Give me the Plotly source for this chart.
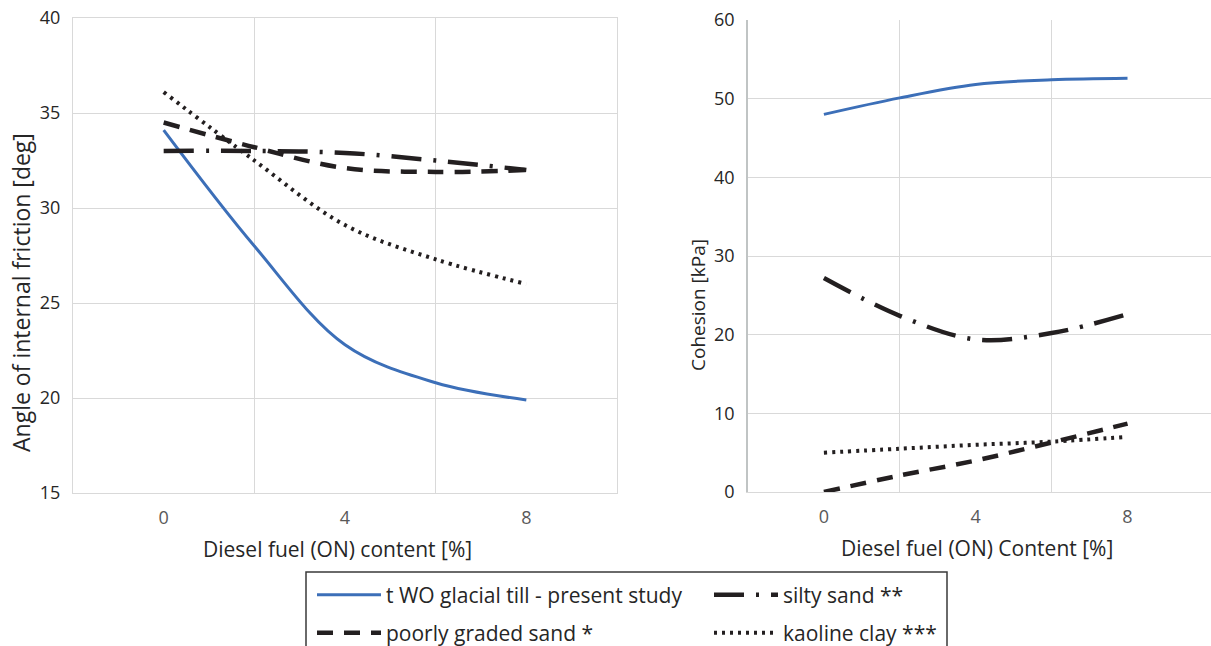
import plotly.graph_objects as go

# ---- data ----
diesel = [0, 2, 4, 6, 8]

names = ["t WO glacial till - present study", "poorly graded sand *",
         "silty sand **", "kaoline clay ***"]

phi_till = [34.1, 28.0, 22.8, 20.8, 19.9]
phi_poorly = [34.5, 33.2, 32.1, 31.9, 32.0]
phi_silty = [33.0, 33.0, 32.9, 32.5, 32.0]
phi_kaolin = [36.1, 32.5, 29.1, 27.3, 26.0]

coh_till = [48.0, 50.1, 51.8, 52.4, 52.6]
coh_poorly = [0.0, 2.1, 4.0, 6.3, 8.7]
coh_silty = [27.2, 22.4, 19.4, 20.2, 22.6]
coh_kaolin = [5.0, 5.5, 6.0, 6.4, 7.0]

x_ticks = [0, 4, 8]
x_grid = [2, 6]

title_x_left = "Diesel fuel (ON) content [%]"
title_y_left = "Angle of internal friction [deg]"
title_x_right = "Diesel fuel (ON) Content [%]"
title_y_right = "Cohesion [kPa]"

# ---- styles ----
BLUE = "#3c6fb8"
BLACK = "#231f20"
styles = [
    dict(color=BLUE, width=3, dash="solid"),
    dict(color=BLACK, width=4.5, dash="16px,11px"),
    dict(color=BLACK, width=4.5, dash="30px,12px,3px,12px"),
    dict(color=BLACK, width=4, dash="3px,5px"),
]
legend_of = ["legend", "legend2", "legend", "legend2"]

FONT = "Open Sans"
GRID = "#d9d9d9"
TXT = "#262626"

W, H = 1211, 646


def px(x):
    return x / W


def py(y):
    return 1 - y / H


fig = go.Figure()

left = [phi_till, phi_poorly, phi_silty, phi_kaolin]
right = [coh_till, coh_poorly, coh_silty, coh_kaolin]

for i in range(4):
    fig.add_trace(go.Scatter(
        x=diesel, y=left[i], mode="lines", name=names[i],
        line=dict(shape="spline", smoothing=1, **styles[i]),
        xaxis="x", yaxis="y", legend=legend_of[i], showlegend=True))
for i in range(4):
    fig.add_trace(go.Scatter(
        x=diesel, y=right[i], mode="lines", name=names[i],
        line=dict(shape="spline", smoothing=1, **styles[i]),
        xaxis="x2", yaxis="y2", showlegend=False))

xcommon = dict(tickmode="array", tickvals=x_ticks, showgrid=False, zeroline=False,
               minor=dict(tickmode="array", tickvals=x_grid, showgrid=True,
                          gridcolor=GRID, gridwidth=1, ticks=""),
               tickfont=dict(family=FONT, size=18, color="#595959"),
               ticks="", ticklabelstandoff=8, ticklabeloverflow="allow")
ycommon = dict(showgrid=True, gridcolor=GRID, zeroline=False, ticks="",
               ticklabelstandoff=8, ticklabeloverflow="allow",
               tickfont=dict(family=FONT, size=18, color=TXT))
legend_common = dict(orientation="h", x=px(312), xanchor="left",
                     yanchor="middle", bgcolor="rgba(0,0,0,0)", borderwidth=0,
                     itemwidth=64, entrywidth=318, entrywidthmode="pixels",
                     font=dict(family=FONT, size=21, color=TXT))

fig.update_layout(
    width=W, height=H,
    margin=dict(l=0, r=0, t=0, b=0, autoexpand=False),
    plot_bgcolor="white", paper_bgcolor="white",
    font=dict(family=FONT, size=18, color=TXT),
    xaxis=dict(domain=[px(73), px(617)], range=[-2, 10], anchor="y",
               showline=True, linecolor=GRID, linewidth=1, mirror=True,
               **xcommon),
    yaxis=dict(domain=[py(493), py(18)], range=[15, 40], dtick=5, anchor="x",
               showline=True, linecolor=GRID, mirror=True, **ycommon),
    xaxis2=dict(domain=[px(748), 1.0], range=[-2, 10.2], anchor="y2",
                showline=True, linecolor=GRID, linewidth=1, **xcommon),
    yaxis2=dict(domain=[py(492), py(20)], range=[0, 60], dtick=10, anchor="x2",
                showline=True, linecolor="#c0c4c4", linewidth=1.5, **ycommon),
    legend=dict(y=py(595), **legend_common),
    legend2=dict(y=py(633), **legend_common),
    shapes=[dict(type="rect", xref="paper", yref="paper",
                 x0=px(306), x1=px(947), y0=-0.2, y1=py(572),
                 line=dict(color="#3a3a3a", width=1.5), fillcolor="rgba(0,0,0,0)")],
    annotations=[
        dict(text=title_x_left, x=px(337), y=py(549), xref="paper", yref="paper",
             xanchor="center", yanchor="middle", showarrow=False,
             font=dict(family=FONT, size=21, color=TXT)),
        dict(text=title_x_right, x=px(977), y=py(548), xref="paper", yref="paper",
             xanchor="center", yanchor="middle", showarrow=False,
             font=dict(family=FONT, size=21, color=TXT)),
        dict(text=title_y_left, x=px(21), y=py(293), xref="paper", yref="paper",
             xanchor="center", yanchor="middle", showarrow=False, textangle=-90,
             font=dict(family=FONT, size=23, color=TXT)),
        dict(text=title_y_right, x=px(698), y=py(305), xref="paper", yref="paper",
             xanchor="center", yanchor="middle", showarrow=False, textangle=-90,
             font=dict(family=FONT, size=19, color=TXT)),
    ],
)

# remove the browser's default 8px page margin so the figure fills the window
fig.write_html("out.html", config={"displayModeBar": False},
               post_script="document.body.style.margin='0';")
